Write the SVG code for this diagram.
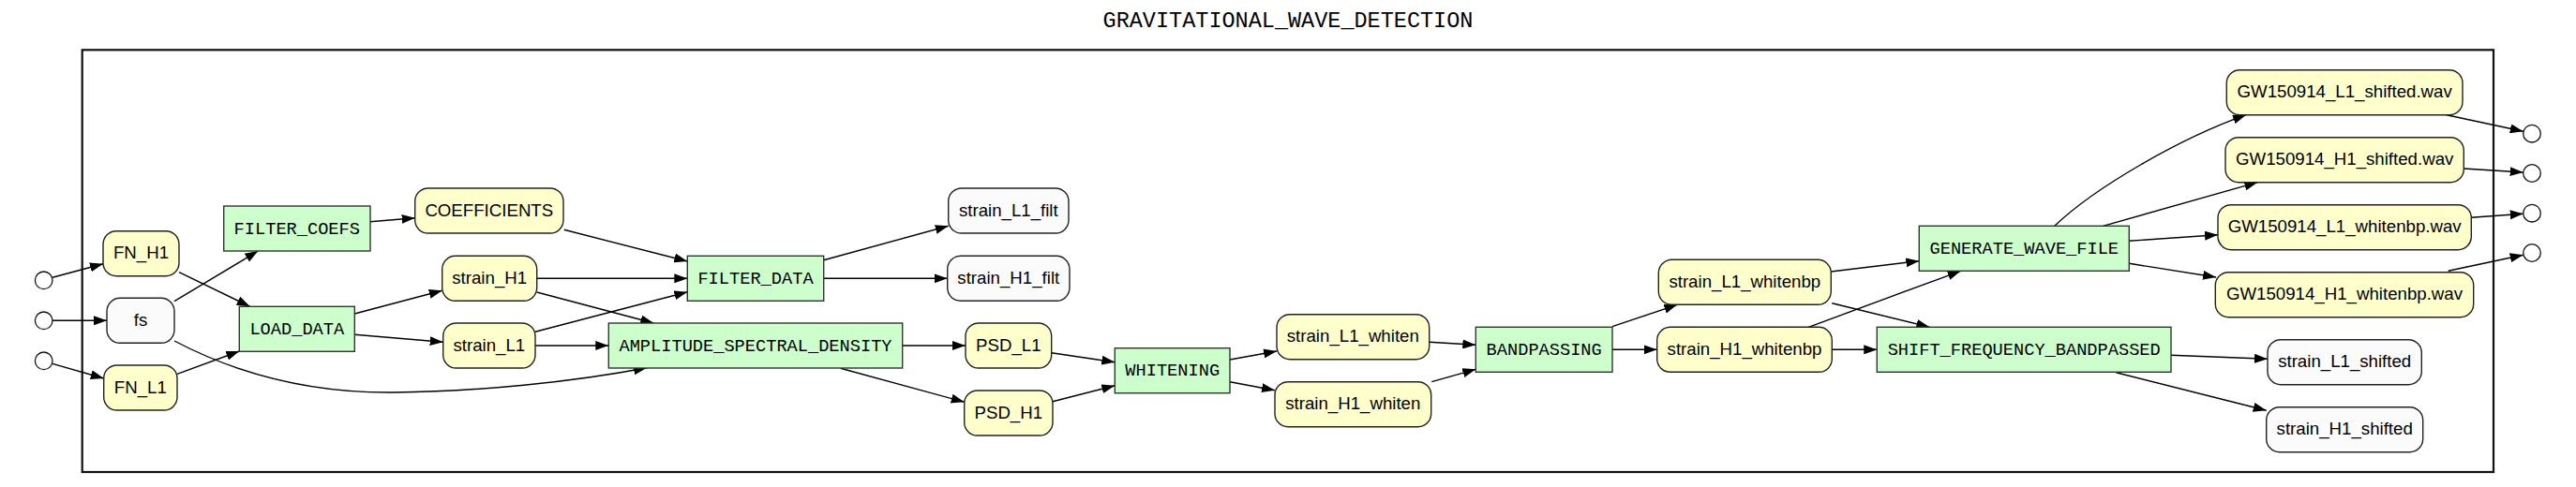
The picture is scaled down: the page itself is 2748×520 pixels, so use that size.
<svg xmlns="http://www.w3.org/2000/svg" width="2748" height="520" viewBox="0 0 2748 520">
<defs>
<style>
.data rect{fill:#ffffcc;stroke:#222;stroke-width:1.4}
.out rect{fill:#fbfbfb;stroke:#222;stroke-width:1.4}
.proc rect{fill:#ccffcc;stroke:#333;stroke-width:1.4}
.port circle{fill:#fff;stroke:#111;stroke-width:1.3}
.sans{font-family:"Liberation Sans",Arial,sans-serif;font-size:18.67px;fill:#000;text-anchor:middle}
.mono{font-family:"Liberation Mono","Courier New",monospace;font-size:18.67px;fill:#000;text-anchor:middle}
#edges path{fill:none;stroke:#000;stroke-width:1.4;marker-end:url(#ah)}
</style>
<marker id="ah" markerUnits="userSpaceOnUse" viewBox="0 0 14 10" refX="14" refY="5" markerWidth="14" markerHeight="10" orient="auto">
<path d="M0,0 L14,5 L0,10 z" fill="#000"/>
</marker>
</defs>
<rect width="2748" height="520" fill="#fff"/>
<text x="1374" y="29" font-family="'Liberation Mono','Courier New',monospace" font-size="23.5" text-anchor="middle">GRAVITATIONAL_WAVE_DETECTION</text>
<rect id="cluster" x="87.7" y="53.3" width="2572.3" height="450.7" fill="none" stroke="#111" stroke-width="2.2"/>

<g id="edges">
<path d="M56,296.3 L110,281.7"/>
<path d="M56,342.3 L114,342.3"/>
<path d="M56,388.3 L110.7,404"/>
<path d="M191,290.7 L266.7,327.3"/>
<path d="M186,321.7 L275.3,268"/>
<path d="M186,364 C245,395 320,420 420,419 C510,418 610,408 690,392.7"/>
<path d="M189,399.3 L255.3,375"/>
<path d="M395,236.7 L442.7,232.7"/>
<path d="M378.3,335 L471.7,310.3"/>
<path d="M378.3,357.3 L472.7,365.3"/>
<path d="M601.7,245.3 L733.3,279"/>
<path d="M572.7,297.3 L733.3,297.3"/>
<path d="M572.7,312 L697.3,345"/>
<path d="M571,354.3 L733.3,311.7"/>
<path d="M571,369 L649.3,369"/>
<path d="M878.7,277.7 L1011.7,241.3"/>
<path d="M878.7,297.3 L1010.7,297.3"/>
<path d="M962.7,369 L1030,369"/>
<path d="M896.7,393.3 L1028.7,429.3"/>
<path d="M1121.7,376.7 L1189.3,386.7"/>
<path d="M1123,428.7 L1189.3,411.7"/>
<path d="M1312,384 L1362,375"/>
<path d="M1312,407.7 L1360,416.7"/>
<path d="M1524.7,365.3 L1574.3,368.3"/>
<path d="M1527.3,407.7 L1574.3,394.3"/>
<path d="M1720,348.7 L1789.3,325.3"/>
<path d="M1720,373.3 L1767.7,373.3"/>
<path d="M1953.3,290 L2047.3,278.7"/>
<path d="M1954.3,323.7 L2058.3,349.3"/>
<path d="M1929.3,349.3 L2091.7,289.3"/>
<path d="M1954.3,373.3 L2002.3,373.3"/>
<path d="M2191.7,241.3 C2235,200 2325,148 2396,122.7"/>
<path d="M2243.3,241.3 L2408.3,194.7"/>
<path d="M2271.3,257.3 L2366,250.7"/>
<path d="M2271.3,281.3 L2364,296"/>
<path d="M2316,379.3 L2419,383.3"/>
<path d="M2257.3,397.7 L2417.7,438.3"/>
<path d="M2610,122.7 L2691.7,140.3"/>
<path d="M2628.3,180 L2691.7,184"/>
<path d="M2636.3,232.3 L2691.7,228.3"/>
<path d="M2611.7,289.3 L2691.7,272.3"/>
</g>

<g id="in_FN_H1" class="port"><circle cx="46.7" cy="299.3" r="9.3"/></g>
<g id="in_fs" class="port"><circle cx="46.7" cy="342.3" r="9.3"/></g>
<g id="in_FN_L1" class="port"><circle cx="46.7" cy="385.3" r="9.3"/></g>
<g id="out_1" class="port"><circle cx="2701" cy="142.7" r="9.3"/></g>
<g id="out_2" class="port"><circle cx="2701" cy="185" r="9.3"/></g>
<g id="out_3" class="port"><circle cx="2701" cy="227.7" r="9.3"/></g>
<g id="out_4" class="port"><circle cx="2701" cy="270" r="9.3"/></g>

<g id="FN_H1" class="data"><rect x="110" y="246.7" width="81" height="48" rx="14"/><text class="sans" x="150.5" y="276.3">FN_H1</text></g>
<g id="fs" class="out"><rect x="114" y="318.3" width="72" height="48" rx="14"/><text class="sans" x="150" y="347.9">fs</text></g>
<g id="FN_L1" class="data"><rect x="110.7" y="390" width="78.3" height="48" rx="14"/><text class="sans" x="149.8" y="419.6">FN_L1</text></g>
<g id="FILTER_COEFS" class="proc"><rect x="238.7" y="220" width="156.3" height="48"/><text class="mono" x="316.8" y="249.5">FILTER_COEFS</text></g>
<g id="LOAD_DATA" class="proc"><rect x="255.3" y="327.3" width="123" height="48"/><text class="mono" x="316.8" y="356.8">LOAD_DATA</text></g>
<g id="COEFFICIENTS" class="data"><rect x="442.7" y="201" width="158.3" height="48" rx="14"/><text class="sans" x="521.8" y="230.6">COEFFICIENTS</text></g>
<g id="strain_H1" class="data"><rect x="471.7" y="273.3" width="101" height="48" rx="14"/><text class="sans" x="522.2" y="302.9">strain_H1</text></g>
<g id="strain_L1" class="data"><rect x="472.7" y="345" width="98.3" height="48" rx="14"/><text class="sans" x="521.8" y="374.6">strain_L1</text></g>
<g id="FILTER_DATA" class="proc"><rect x="733.3" y="273.3" width="145.4" height="48"/><text class="mono" x="806" y="302.8">FILTER_DATA</text></g>
<g id="AMPLITUDE_SPECTRAL_DENSITY" class="proc"><rect x="649.3" y="345" width="313.4" height="48"/><text class="mono" x="806" y="374.5">AMPLITUDE_SPECTRAL_DENSITY</text></g>
<g id="strain_L1_filt" class="out"><rect x="1011.7" y="201" width="128.3" height="48" rx="14"/><text class="sans" x="1075.8" y="230.6">strain_L1_filt</text></g>
<g id="strain_H1_filt" class="out"><rect x="1010.7" y="273.3" width="130.3" height="48" rx="14"/><text class="sans" x="1075.8" y="302.9">strain_H1_filt</text></g>
<g id="PSD_L1" class="data"><rect x="1030" y="345" width="91.7" height="48" rx="14"/><text class="sans" x="1075.8" y="374.6">PSD_L1</text></g>
<g id="PSD_H1" class="data"><rect x="1028.7" y="417" width="94.3" height="48" rx="14"/><text class="sans" x="1075.8" y="446.6">PSD_H1</text></g>
<g id="WHITENING" class="proc"><rect x="1189.3" y="371.7" width="122.7" height="48"/><text class="mono" x="1250.7" y="401.2">WHITENING</text></g>
<g id="strain_L1_whiten" class="data"><rect x="1362" y="335.7" width="162.7" height="48" rx="14"/><text class="sans" x="1443.3" y="365.3">strain_L1_whiten</text></g>
<g id="strain_H1_whiten" class="data"><rect x="1360" y="407.7" width="166.7" height="48" rx="14"/><text class="sans" x="1443.3" y="437.3">strain_H1_whiten</text></g>
<g id="BANDPASSING" class="proc"><rect x="1574.3" y="349.3" width="145.7" height="48"/><text class="mono" x="1647.2" y="378.8">BANDPASSING</text></g>
<g id="strain_L1_whitenbp" class="data"><rect x="1769.3" y="277.3" width="184" height="48" rx="14"/><text class="sans" x="1861.3" y="306.9">strain_L1_whitenbp</text></g>
<g id="strain_H1_whitenbp" class="data"><rect x="1767.7" y="349.3" width="186.6" height="48" rx="14"/><text class="sans" x="1861" y="378.9">strain_H1_whitenbp</text></g>
<g id="GENERATE_WAVE_FILE" class="proc"><rect x="2047.3" y="241.3" width="224" height="48"/><text class="mono" x="2159.3" y="270.8">GENERATE_WAVE_FILE</text></g>
<g id="SHIFT_FREQUENCY_BANDPASSED" class="proc"><rect x="2002.3" y="349.3" width="313.7" height="48"/><text class="mono" x="2159.2" y="378.8">SHIFT_FREQUENCY_BANDPASSED</text></g>
<g id="GW150914_L1_shifted" class="data"><rect x="2375.3" y="74.7" width="251.7" height="48" rx="14"/><text class="sans" x="2501.2" y="104.3">GW150914_L1_shifted.wav</text></g>
<g id="GW150914_H1_shifted" class="data"><rect x="2374" y="146.7" width="254.3" height="48" rx="14"/><text class="sans" x="2501.2" y="176.3">GW150914_H1_shifted.wav</text></g>
<g id="GW150914_L1_whitenbp" class="data"><rect x="2366" y="218.7" width="270.3" height="48" rx="14"/><text class="sans" x="2501.2" y="248.3">GW150914_L1_whitenbp.wav</text></g>
<g id="GW150914_H1_whitenbp" class="data"><rect x="2363.3" y="290.7" width="275.4" height="48" rx="14"/><text class="sans" x="2501" y="320.3">GW150914_H1_whitenbp.wav</text></g>
<g id="strain_L1_shifted" class="out"><rect x="2419" y="362.7" width="164.3" height="48" rx="14"/><text class="sans" x="2501.2" y="392.3">strain_L1_shifted</text></g>
<g id="strain_H1_shifted" class="out"><rect x="2417.7" y="434.7" width="167" height="48" rx="14"/><text class="sans" x="2501.2" y="464.3">strain_H1_shifted</text></g>
</svg>
